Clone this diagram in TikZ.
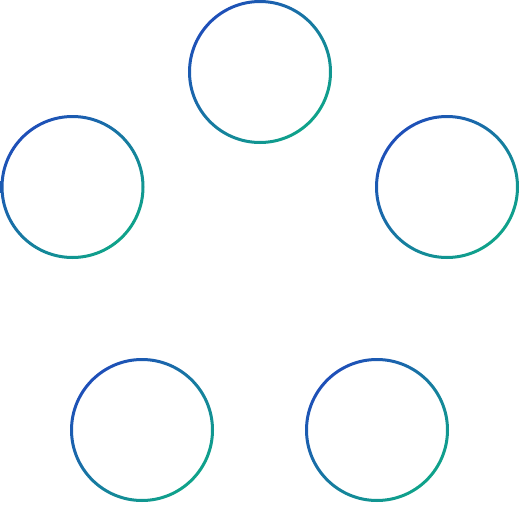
\documentclass[tikz,border=0pt]{standalone}
\definecolor{cblue}{HTML}{1E4FB8}
\definecolor{cteal}{HTML}{0FA38A}
\tikzset{
  spot/.style={circle, minimum size=141pt, inner sep=0pt},
  ring/.style={even odd rule, top color=cblue, bottom color=cteal, shading angle=45}
}
\begin{document}
\begin{tikzpicture}[x=1pt,y=-1pt]
\useasboundingbox (0,0) rectangle (520,509);
\node[spot] (a) at (260,72) {};
\node[spot] (b) at (72.5,187) {};
\node[spot] (c) at (447,187) {};
\node[spot] (d) at (142,430) {};
\node[spot] (e) at (377,430) {};
\foreach \n in {a,b,c,d,e}{
  \shade[ring] (\n.center) circle (72) (\n.center) circle (69);
}
\end{tikzpicture}
\end{document}
